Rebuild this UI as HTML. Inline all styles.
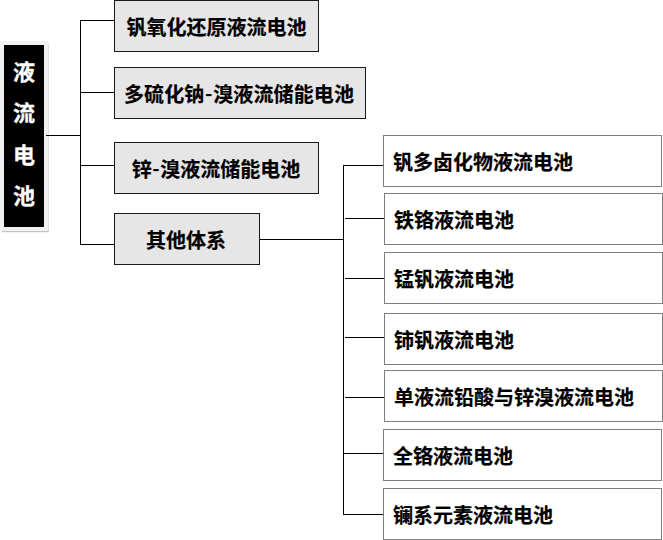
<!DOCTYPE html>
<html lang="zh-CN">
<head>
<meta charset="utf-8">
<title>液流电池</title>
<style>
html,body{margin:0;padding:0;background:#fff;}
body{width:663px;height:540px;position:relative;overflow:hidden;
  font-family:"Liberation Sans","Noto Sans CJK SC",sans-serif;font-weight:bold;color:#000;}
.b{position:absolute;box-sizing:border-box;height:52px;line-height:50px;padding-top:2px;font-size:20px;letter-spacing:0;white-space:nowrap;-webkit-text-stroke:0.2px #000;}
.g{background:#e6e6e6;border:1px solid #1a1a1a;text-align:center;}
.w{background:#fff;border:1px solid #7f7f7f;left:383px;width:279px;padding-left:9px;text-align:left;}
.l{position:absolute;background:#000;}
.h{height:1px;}
.v{width:1px;}
#root{position:absolute;left:0;top:41px;width:48px;height:190px;background:#f1f1f1;}
#root::before{content:"";position:absolute;left:2px;top:190px;width:47px;height:1px;background:#c4c4c4;box-shadow:0 1px 0 #f3f3f3;}
#root::after{content:"";position:absolute;left:48px;top:3px;width:1px;height:187px;background:#e0e0e0;}
#root div{position:absolute;left:4px;top:4px;width:40px;height:182px;background:#000;color:#fff;font-size:22px;text-align:center;-webkit-text-stroke:0.3px #fff;}
#root span{position:absolute;left:0;width:40px;height:42px;line-height:42px;}
.b i{font-style:normal;font-family:"Noto Sans CJK SC",sans-serif;font-weight:700;-webkit-text-stroke:0;line-height:0;position:relative;top:-1px;left:-0.2px;margin:0 0.5px 0 0.8px;letter-spacing:0;}
</style>
</head>
<body>
<div id="root"><div>
<span style="top:7px">液</span><span style="top:48px">流</span><span style="top:90px">电</span><span style="top:131px">池</span>
</div></div>

<div class="l h" style="left:46px;top:135px;width:35px"></div>
<div class="l v" style="left:80px;top:20px;height:225px"></div>
<div class="l h" style="left:80px;top:20px;width:34px"></div>
<div class="l h" style="left:80px;top:92px;width:34px"></div>
<div class="l h" style="left:80px;top:165px;width:34px"></div>
<div class="l h" style="left:80px;top:244px;width:34px"></div>

<div class="b g" style="left:114px;top:0;width:205px">钒氧化还原液流电池</div>
<div class="b g" style="left:114px;top:67px;width:252px;padding-right:2px;letter-spacing:0.13px">多硫化钠<i>-</i>溴液流储能电池</div>
<div class="b g" style="left:114px;top:142px;width:205px;padding-right:1px">锌<i>-</i>溴液流储能电池</div>
<div class="b g" style="left:114px;top:213px;width:146px;padding-right:2px">其他体系</div>

<div class="l h" style="left:260px;top:239px;width:84px"></div>
<div class="l v" style="left:343px;top:165px;height:350px"></div>
<div class="l h" style="left:343px;top:165px;width:40px"></div>
<div class="l h" style="left:345px;top:218px;width:39px"></div>
<div class="l h" style="left:345px;top:278px;width:39px"></div>
<div class="l h" style="left:345px;top:337px;width:39px"></div>
<div class="l h" style="left:345px;top:397px;width:39px"></div>
<div class="l h" style="left:343px;top:453px;width:40px"></div>
<div class="l h" style="left:343px;top:514px;width:40px"></div>

<div class="b w" style="top:135px">钒多卤化物液流电池</div>
<div class="b w" style="top:193px;left:384px">铁铬液流电池</div>
<div class="b w" style="top:252px;left:384px">锰钒液流电池</div>
<div class="b w" style="top:313px;left:384px">铈钒液流电池</div>
<div class="b w" style="top:370px;left:384px">单液流铅酸与锌溴液流电池</div>
<div class="b w" style="top:429px">全铬液流电池</div>
<div class="b w" style="top:488px">镧系元素液流电池</div>
</body>
</html>
